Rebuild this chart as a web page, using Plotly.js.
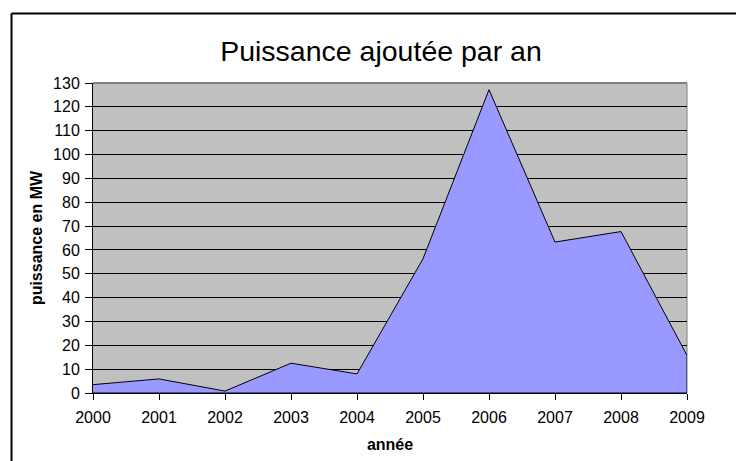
<!DOCTYPE html>
<html>
<head>
<meta charset="utf-8">
<script src="https://cdn.plot.ly/plotly-3.0.1.min.js"></script>
<style>
  html, body { margin: 0; padding: 0; background: #ffffff; overflow: hidden; }
  #chart { width: 736px; height: 461px; }
</style>
</head>
<body>
<div id="chart"></div>
<script>
// Data
const years = [2000, 2001, 2002, 2003, 2004, 2005, 2006, 2007, 2008, 2009];
const powerMW = [3.5, 5.9, 0.8, 12.5, 8.0, 56.3, 127.2, 63.3, 67.7, 15.8];
const yTicks = [0, 10, 20, 30, 40, 50, 60, 70, 80, 90, 100, 110, 120, 130];

const chartTitle = 'Puissance ajoutée par an';
const xTitle = 'année';
const yTitle = 'puissance en MW';

// Closed polygon (area down to zero) built from the data
const polyX = years.concat([years[years.length - 1], years[0]]);
const polyY = powerMW.concat([0, 0]);

const font = 'Liberation Sans, Arial, sans-serif';

const trace = {
  type: 'scatter',
  mode: 'lines',
  x: polyX,
  y: polyY,
  fill: 'toself',
  fillcolor: '#9999FF',
  line: { color: '#000000', width: 1 },
  hoverinfo: 'skip'
};

const W = 736, H = 461;
const L = 93, R = 49, T = 83, B = 68;
const pw = W - L - R, ph = H - T - B;

const layout = {
  width: W,
  height: H,
  margin: { l: L, r: R, t: T, b: B, pad: 0 },
  paper_bgcolor: '#FFFFFF',
  plot_bgcolor: '#C0C0C0',
  showlegend: false,
  font: { family: font, color: '#000000', size: 16 },
  title: {
    text: chartTitle,
    font: { family: font, size: 28.5, color: '#000000' },
    xref: 'paper',
    x: (381 - L) / pw,
    xanchor: 'center',
    yref: 'container',
    y: 1 - 51 / H,
    yanchor: 'middle'
  },
  xaxis: {
    type: 'linear',
    range: [years[0], years[years.length - 1]],
    tickvals: years,
    ticktext: years.map(String),
    ticks: 'outside',
    ticklen: 6,
    tickcolor: '#000000',
    tickwidth: 1,
    ticklabelstandoff: 4,
    showgrid: false,
    zeroline: false,
    showline: true,
    linecolor: '#000000',
    linewidth: 1,
    tickfont: { family: font, size: 16, color: '#000000' },
    title: {
      text: '<b>' + xTitle + '</b>',
      font: { family: font, size: 16, color: '#000000' },
      standoff: 13
    }
  },
  yaxis: {
    range: [0, 130],
    tickvals: yTicks,
    ticktext: yTicks.map(String),
    ticks: 'outside',
    ticklen: 7,
    tickcolor: '#000000',
    tickwidth: 1,
    ticklabelstandoff: 2,
    showgrid: true,
    gridcolor: '#000000',
    gridwidth: 1,
    zeroline: false,
    showline: true,
    linecolor: '#000000',
    linewidth: 1,
    tickfont: { family: font, size: 16, color: '#000000' },
    title: {
      text: '<b>' + yTitle + '</b>',
      font: { family: font, size: 16, color: '#000000' },
      standoff: 6
    }
  },
  shapes: [
    // top edge of plot area (grey)
    { type: 'line', xref: 'paper', yref: 'paper', x0: 0, x1: 1, y0: 1, y1: 1,
      line: { color: '#808080', width: 2 }, layer: 'above' },
    // right edge of plot area (grey)
    { type: 'line', xref: 'paper', yref: 'paper', x0: 1, x1: 1, y0: 0, y1: 1,
      line: { color: '#808080', width: 1 }, layer: 'below' },
    // outer chart border: left and top edges
    { type: 'line', xref: 'paper', yref: 'paper',
      x0: (11.5 - L) / pw, x1: (11.5 - L) / pw,
      y0: (T + ph - (H + 10)) / ph, y1: (T + ph - 13.5) / ph,
      line: { color: '#000000', width: 2 }, layer: 'above' },
    { type: 'line', xref: 'paper', yref: 'paper',
      x0: (11.5 - L) / pw, x1: (W + 10 - L) / pw,
      y0: (T + ph - 13.5) / ph, y1: (T + ph - 13.5) / ph,
      line: { color: '#000000', width: 2 }, layer: 'above' }
  ]
};

Plotly.newPlot('chart', [trace], layout, { staticPlot: true, displayModeBar: false });
</script>
</body>
</html>
